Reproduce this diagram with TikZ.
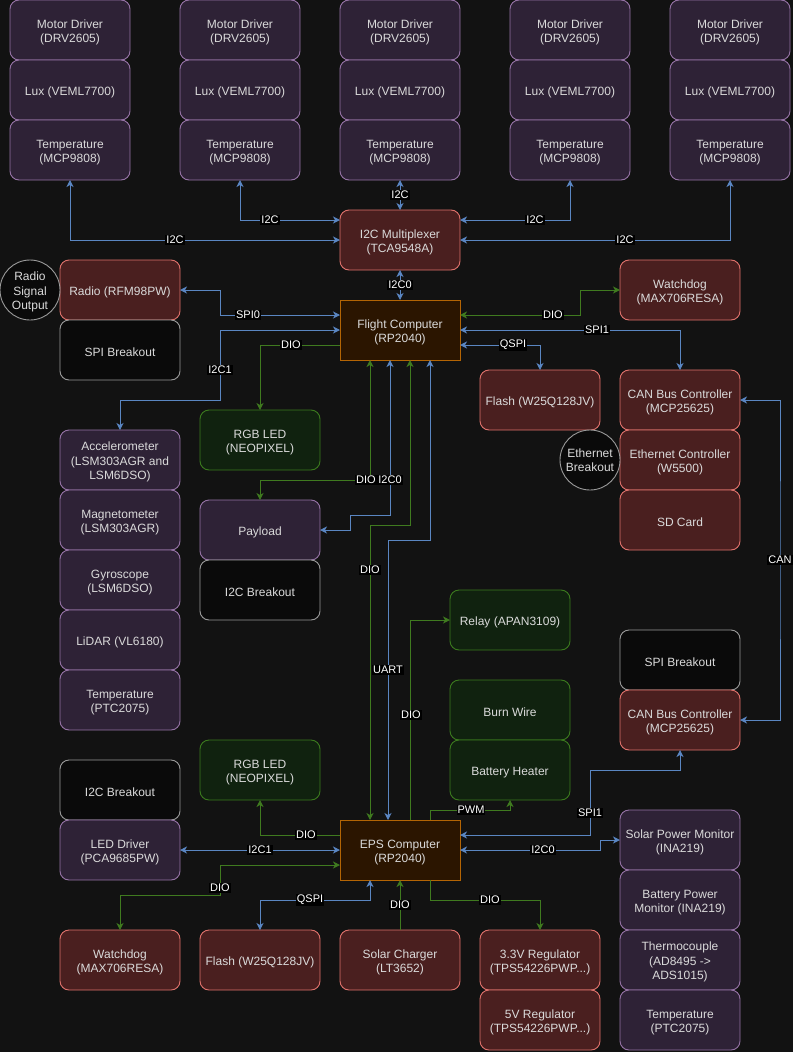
\documentclass[tikz,border=0pt]{standalone}
\usepackage{fontspec}
\setmainfont{Liberation Sans}
\usetikzlibrary{arrows.meta}
\newcommand\mystrut{\rule{0pt}{13pt}}
\definecolor{bg}{HTML}{121212}
\definecolor{txt}{HTML}{DADADA}
\definecolor{pfill}{HTML}{2E2236}
\definecolor{pline}{HTML}{9673A6}
\definecolor{rfill}{HTML}{4A1F1F}
\definecolor{rline}{HTML}{E0726C}
\definecolor{gfill}{HTML}{10220F}
\definecolor{gline}{HTML}{3B7A1E}
\definecolor{ofill}{HTML}{2B1500}
\definecolor{oline}{HTML}{B46504}
\definecolor{kfill}{HTML}{0A0A0A}
\definecolor{kline}{HTML}{9A9A9A}
\definecolor{bluel}{HTML}{5A86C2}
\definecolor{greenl}{HTML}{3F7A1F}
\tikzset{
  box/.style={draw, rounded corners=9pt, minimum width=120pt, minimum height=60pt,
    align=center, inner sep=2pt, outer sep=0pt, text=txt, line width=0.9pt,
    font=\fontsize{12}{14.5}\selectfont,
    execute at begin node={\mystrut}},
  pbox/.style={box, fill=pfill, draw=pline},
  rbox/.style={box, fill=rfill, draw=rline},
  gbox/.style={box, fill=gfill, draw=gline},
  kbox/.style={box, fill=kfill, draw=kline},
  obox/.style={box, rounded corners=0pt, fill=ofill, draw=oline},
  cbox/.style={circle, draw=kline, fill=kfill, minimum size=60pt, inner sep=0pt,
    outer sep=0pt, align=center, text=txt, line width=0.9pt,
    font=\fontsize{12}{14.5}\selectfont},
  bw/.style={draw=bluel, line width=1pt},
  gw/.style={draw=greenl, line width=1pt},
  lbl/.style={fill=black, text=white, inner sep=1pt, outer sep=0pt,
    font=\fontsize{11}{12}\selectfont},
  >={Stealth[length=7pt,width=7pt,inset=2pt]}
}
\begin{document}
\begin{tikzpicture}[x=1pt,y=-1pt]
\fill[bg] (0,0) rectangle (793,1052);
\useasboundingbox (0,0) rectangle (793,1052);

% top row
\foreach \i/\x in {1/70,2/240,3/400,4/570,5/730}{
  \node[pbox] (md\i) at (\x,30) {\mystrut Motor Driver\\(DRV2605)};
  \node[pbox] (lux\i) at (\x,90) {Lux (VEML7700)};
  \node[pbox] (tmp\i) at (\x,150) {\mystrut Temperature\\(MCP9808)};
}
\node[rbox] (mux) at (400,240) {\mystrut I2C Multiplexer\\(TCA9548A)};
\node[obox] (fc) at (400,330) {\mystrut Flight Computer\\(RP2040)};

\node[rbox] (radio) at (120,290) {Radio (RFM98PW)};
\node[kbox] (spib1) at (120,350) {SPI Breakout};
\node[cbox] (rso) at (30,290) {\rule{0pt}{12.5pt}Radio\\Signal\\Output};

\node[rbox] (wd1) at (680,290) {\mystrut Watchdog\\(MAX706RESA)};
\node[rbox] (flash1) at (540,400) {Flash (W25Q128JV)};
\node[rbox] (can1) at (680,400) {\mystrut CAN Bus Controller\\(MCP25625)};
\node[rbox] (eth) at (680,460) {\mystrut Ethernet Controller\\(W5500)};
\node[rbox] (sd) at (680,520) {SD Card};
\node[cbox] (ethb) at (590,460) {Ethernet\\Breakout};

\node[gbox] (led1) at (260,440) {\mystrut RGB LED\\(NEOPIXEL)};

\node[pbox] (acc) at (120,460) {\mystrut Accelerometer\\(LSM303AGR and\\LSM6DSO)};
\node[pbox] (mag) at (120,520) {\mystrut Magnetometer\\(LSM303AGR)};
\node[pbox] (gyro) at (120,580) {\mystrut Gyroscope\\(LSM6DSO)};
\node[pbox] (lidar) at (120,640) {LiDAR (VL6180)};
\node[pbox] (ptc1) at (120,700) {\mystrut Temperature\\(PTC2075)};

\node[pbox] (payload) at (260,530) {Payload};
\node[kbox] (i2cb1) at (260,590) {I2C Breakout};

\node[gbox] (relay) at (510,620) {Relay (APAN3109)};
\node[gbox] (burn) at (510,710) {Burn Wire};
\node[gbox] (heater) at (510,770) {Battery Heater};

\node[kbox] (spib2) at (680,660) {SPI Breakout};
\node[rbox] (can2) at (680,720) {\mystrut CAN Bus Controller\\(MCP25625)};

\node[gbox] (led2) at (260,770) {\mystrut RGB LED\\(NEOPIXEL)};
\node[kbox] (i2cb2) at (120,790) {I2C Breakout};
\node[pbox] (ledd) at (120,850) {\mystrut LED Driver\\(PCA9685PW)};

\node[obox] (eps) at (400,850) {\mystrut EPS Computer\\(RP2040)};

\node[rbox] (wd2) at (120,960) {\mystrut Watchdog\\(MAX706RESA)};
\node[rbox] (flash2) at (260,960) {Flash (W25Q128JV)};
\node[rbox] (solar) at (400,960) {\mystrut Solar Charger\\(LT3652)};
\node[rbox] (reg33) at (540,960) {\mystrut 3.3V Regulator\\(TPS54226PWP...)};
\node[rbox] (reg5) at (540,1020) {\mystrut 5V Regulator\\(TPS54226PWP...)};

\node[pbox] (spm) at (680,840) {\mystrut Solar Power Monitor\\(INA219)};
\node[pbox] (bpm) at (680,900) {\mystrut Battery Power\\Monitor (INA219)};
\node[pbox] (tc) at (680,960) {\mystrut Thermocouple\\(AD8495 ->\\ADS1015)};
\node[pbox] (ptc2) at (680,1020) {\mystrut Temperature\\(PTC2075)};

% connectors: mux
\draw[bw,<->] (tmp1.south) |- (mux.west |- 0,240);
\draw[bw,<->] (tmp2.south) |- (mux.west |- 0,220);
\draw[bw,<->] (tmp3.south) -- (mux.north);
\draw[bw,<->] (tmp4.south) |- (mux.east |- 0,220);
\draw[bw,<->] (tmp5.south) |- (mux.east |- 0,240);
\draw[bw,<->] (mux.south) -- (fc.north);

% flight computer left
\draw[bw,<->] (fc.west |- 0,315) -| (220,290) -- (radio.east);
\draw[bw,<->] (fc.west |- 0,330) -| (220,400) -| (acc.north);
\draw[gw,->] (fc.west |- 0,345) -| (led1.north);
% flight computer right
\draw[gw,<->] (fc.east |- 0,315) -| (580,290) -- (wd1.west);
\draw[bw,<->] (fc.east |- 0,330) -| (can1.north);
\draw[bw,<->] (fc.east |- 0,345) -| (flash1.north);
\draw[bw,<->] (can1.east) -| (780,560) |- (can2.east);
% flight computer bottom
\draw[gw,<->] (fc.south -| 370,0) |- (260,480) -- (payload.north);
\draw[bw,<->] (fc.south -| 390,0) |- (350,515) |- (payload.east |- 0,530);
\draw[gw,<->] (fc.south -| 410,0) |- (370,525) -- (eps.north -| 370,0);
\draw[bw,<->] (fc.south -| 430,0) |- (388,540) -- (eps.north -| 388,0);

% EPS
\draw[gw,->] (eps.north -| 410,0) |- (relay.west);
\draw[gw,->] (eps.north -| 430,0) |- (510,810) -- (heater.south);
\draw[gw,->] (eps.west |- 0,835) -| (led2.south);
\draw[bw,<->] (ledd.east) -- (eps.west |- 0,850);
\draw[gw,<->] (eps.west |- 0,865) -| (220,895) -| (wd2.north);
\draw[bw,<->] (eps.south -| 370,0) |- (260,900) -- (flash2.north);
\draw[gw,->] (solar.north) -- (eps.south);
\draw[gw,->] (eps.south -| 430,0) |- (540,900) -- (reg33.north);
\draw[bw,<->] (eps.east |- 0,835) -| (590,770) -| (can2.south);
\draw[bw,<->] (eps.east |- 0,850) -| (600,840) -- (spm.west);

% labels
\node[lbl] (l1) at (175,240) {I2C};
\node[lbl] (l2) at (270,220) {I2C};
\node[lbl] (l3) at (400,195) {I2C};
\node[lbl] (l4) at (535,220) {I2C};
\node[lbl] (l5) at (625,240) {I2C};
\node[lbl] (l6) at (400,285) {I2C0};
\node[lbl] (l7) at (248,315) {SPI0};
\node[lbl] (l8) at (220,370) {I2C1};
\node[lbl] (l9) at (291,345) {DIO};
\node[lbl] (l10) at (553,315) {DIO};
\node[lbl] (l11) at (597,330) {SPI1};
\node[lbl] (l12) at (513,345) {QSPI};
\node[lbl] (l13) at (780,560) {CAN};
\node[lbl] (l14) at (366,480) {DIO};
\node[lbl] (l15) at (390,480) {I2C0};
\node[lbl] (l16) at (370,570) {DIO};
\node[lbl] (l17) at (388,670) {UART};
\node[lbl] (l18) at (411,715) {DIO};
\node[lbl] (l19) at (471,810) {PWM};
\node[lbl] (l20) at (306,835) {DIO};
\node[lbl] (l21) at (260,850) {I2C1};
\node[lbl] (l22) at (220,888) {DIO};
\node[lbl] (l23) at (310,900) {QSPI};
\node[lbl] (l24) at (400,905) {DIO};
\node[lbl] (l25) at (490,900) {DIO};
\node[lbl] (l26) at (590,813) {SPI1};
\node[lbl] (l27) at (543,850) {I2C0};
\end{tikzpicture}
\end{document}
